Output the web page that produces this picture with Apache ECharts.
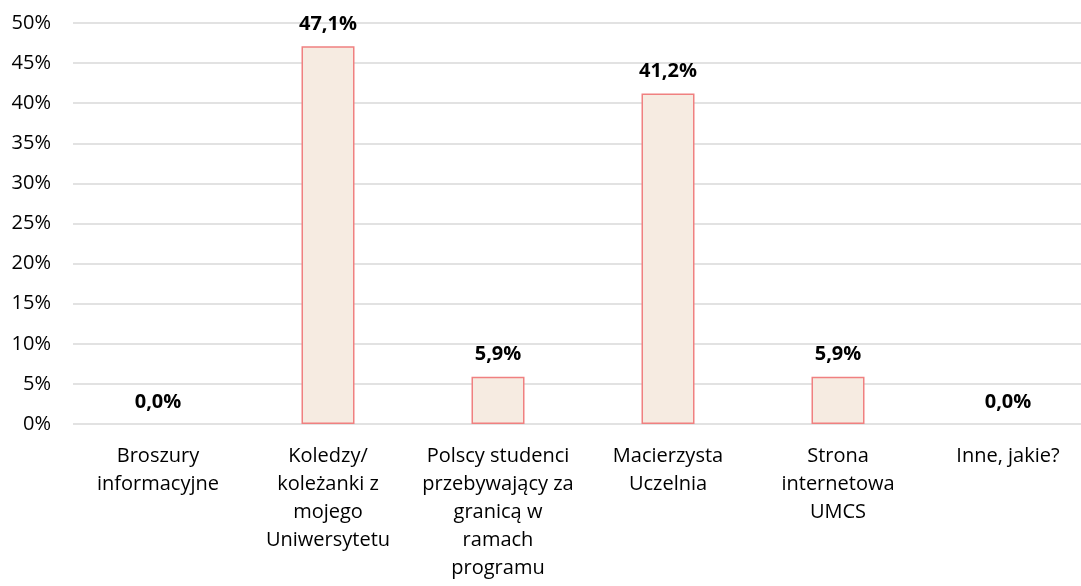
<!DOCTYPE html>
<html><head><meta charset="utf-8">
<script src="https://cdn.jsdelivr.net/npm/echarts@6/dist/echarts.min.js"></script>
<style>html,body{margin:0;padding:0;background:#fff}#c{width:1081px;height:586px}</style>
</head><body><div id="c"></div>
<script>
const categories = ["Broszury\ninformacyjne","Koledzy/\nkoleżanki z\nmojego\nUniwersytetu","Polscy studenci\nprzebywający za\ngranicą w\nramach\nprogramu","Macierzysta\nUczelnia","Strona\ninternetowa\nUMCS","Inne, jakie?"];
const values = [0, 47.1, 5.9, 41.2, 5.9, 0];
const chart = echarts.init(document.getElementById('c'));
const font = '"Open Sans", sans-serif';
chart.setOption({
  animation:false,
  grid:{left:73,width:1020,top:23,height:401,outerBoundsMode:'none',containLabel:false},
  xAxis:{type:'category',data:categories,
    axisLine:{show:false},axisTick:{show:false},
    axisLabel:{interval:0,margin:18,fontFamily:font,fontSize:20,color:'#000',lineHeight:28,verticalAlign:'top'}},
  yAxis:{type:'value',min:0,max:50,interval:5,
    axisLabel:{formatter:'{value}%',fontFamily:font,fontSize:20,color:'#000',margin:22},
    splitLine:{lineStyle:{color:'#d9d9d9',width:1.5}},axisLine:{show:false},axisTick:{show:false}},
  series:[{type:'bar',barWidth:53,
    data:values.map(v=>v===0?{value:v,itemStyle:{borderWidth:0}}:v),
    itemStyle:{color:'#f6ebe1',borderColor:'#f08080',borderWidth:1.5},
    label:{show:true,position:'top',distance:12,fontFamily:font,fontSize:20,fontWeight:'bold',color:'#000',
      formatter:p=>p.value.toFixed(1).replace('.',',')+'%'}}]
});
</script></body></html>
